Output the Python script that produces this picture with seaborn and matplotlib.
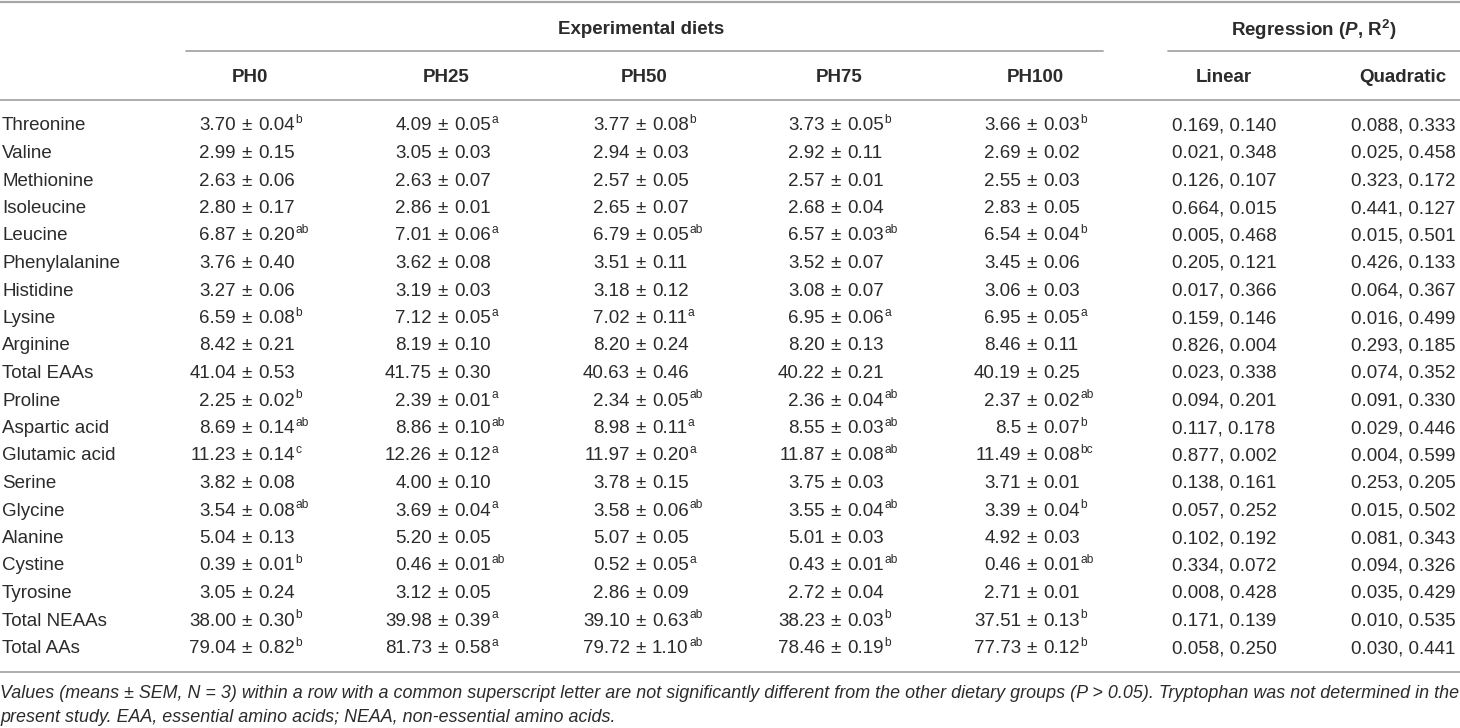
import matplotlib
matplotlib.use("Agg")
import matplotlib.pyplot as plt
import seaborn as sns

# table content
acids = ["Threonine", "Valine", "Methionine", "Isoleucine", "Leucine", "Phenylalanine",
         "Histidine", "Lysine", "Arginine", "Total EAAs", "Proline", "Aspartic acid",
         "Glutamic acid", "Serine", "Glycine", "Alanine", "Cystine", "Tyrosine",
         "Total NEAAs", "Total AAs"]
diets = ["PH0", "PH25", "PH50", "PH75", "PH100"]

ph0_mean = ["3.70", "2.99", "2.63", "2.80", "6.87", "3.76", "3.27", "6.59", "8.42", "41.04",
            "2.25", "8.69", "11.23", "3.82", "3.54", "5.04", "0.39", "3.05", "38.00", "79.04"]
ph0_sem = ["0.04", "0.15", "0.06", "0.17", "0.20", "0.40", "0.06", "0.08", "0.21", "0.53",
           "0.02", "0.14", "0.14", "0.08", "0.08", "0.13", "0.01", "0.24", "0.30", "0.82"]
ph0_sup = ["b", "", "", "", "ab", "", "", "b", "", "", "b", "ab", "c", "", "ab", "", "b", "", "b", "b"]

ph25_mean = ["4.09", "3.05", "2.63", "2.86", "7.01", "3.62", "3.19", "7.12", "8.19", "41.75",
             "2.39", "8.86", "12.26", "4.00", "3.69", "5.20", "0.46", "3.12", "39.98", "81.73"]
ph25_sem = ["0.05", "0.03", "0.07", "0.01", "0.06", "0.08", "0.03", "0.05", "0.10", "0.30",
            "0.01", "0.10", "0.12", "0.10", "0.04", "0.05", "0.01", "0.05", "0.39", "0.58"]
ph25_sup = ["a", "", "", "", "a", "", "", "a", "", "", "a", "ab", "a", "", "a", "", "ab", "", "a", "a"]

ph50_mean = ["3.77", "2.94", "2.57", "2.65", "6.79", "3.51", "3.18", "7.02", "8.20", "40.63",
             "2.34", "8.98", "11.97", "3.78", "3.58", "5.07", "0.52", "2.86", "39.10", "79.72"]
ph50_sem = ["0.08", "0.03", "0.05", "0.07", "0.05", "0.11", "0.12", "0.11", "0.24", "0.46",
            "0.05", "0.11", "0.20", "0.15", "0.06", "0.05", "0.05", "0.09", "0.63", "1.10"]
ph50_sup = ["b", "", "", "", "ab", "", "", "a", "", "", "ab", "a", "a", "", "ab", "", "a", "", "ab", "ab"]

ph75_mean = ["3.73", "2.92", "2.57", "2.68", "6.57", "3.52", "3.08", "6.95", "8.20", "40.22",
             "2.36", "8.55", "11.87", "3.75", "3.55", "5.01", "0.43", "2.72", "38.23", "78.46"]
ph75_sem = ["0.05", "0.11", "0.01", "0.04", "0.03", "0.07", "0.07", "0.06", "0.13", "0.21",
            "0.04", "0.03", "0.08", "0.03", "0.04", "0.03", "0.01", "0.04", "0.03", "0.19"]
ph75_sup = ["b", "", "", "", "ab", "", "", "a", "", "", "ab", "ab", "ab", "", "ab", "", "ab", "", "b", "b"]

ph100_mean = ["3.66", "2.69", "2.55", "2.83", "6.54", "3.45", "3.06", "6.95", "8.46", "40.19",
              "2.37", "8.5", "11.49", "3.71", "3.39", "4.92", "0.46", "2.71", "37.51", "77.73"]
ph100_sem = ["0.03", "0.02", "0.03", "0.05", "0.04", "0.06", "0.03", "0.05", "0.11", "0.25",
             "0.02", "0.07", "0.08", "0.01", "0.04", "0.03", "0.01", "0.01", "0.13", "0.12"]
ph100_sup = ["b", "", "", "", "b", "", "", "a", "", "", "ab", "b", "bc", "", "b", "", "ab", "", "b", "b"]

linear = ["0.169, 0.140", "0.021, 0.348", "0.126, 0.107", "0.664, 0.015", "0.005, 0.468",
          "0.205, 0.121", "0.017, 0.366", "0.159, 0.146", "0.826, 0.004", "0.023, 0.338",
          "0.094, 0.201", "0.117, 0.178", "0.877, 0.002", "0.138, 0.161", "0.057, 0.252",
          "0.102, 0.192", "0.334, 0.072", "0.008, 0.428", "0.171, 0.139", "0.058, 0.250"]
quadratic = ["0.088, 0.333", "0.025, 0.458", "0.323, 0.172", "0.441, 0.127", "0.015, 0.501",
             "0.426, 0.133", "0.064, 0.367", "0.016, 0.499", "0.293, 0.185", "0.074, 0.352",
             "0.091, 0.330", "0.029, 0.446", "0.004, 0.599", "0.253, 0.205", "0.015, 0.502",
             "0.081, 0.343", "0.094, 0.326", "0.035, 0.429", "0.010, 0.535", "0.030, 0.441"]

footnote = ["Values (means ± SEM, N = 3) within a row with a common superscript letter are not significantly "
            "different from the other dietary groups (P > 0.05). Tryptophan was not determined in the",
            "present study. EAA, essential amino acids; NEAA, non-essential amino acids."]

means = [ph0_mean, ph25_mean, ph50_mean, ph75_mean, ph100_mean]
sems = [ph0_sem, ph25_sem, ph50_sem, ph75_sem, ph100_sem]
sups = [ph0_sup, ph25_sup, ph50_sup, ph75_sup, ph100_sup]

# styling
sns.set_theme(style="white")
plt.rcParams["font.family"] = ["Liberation Sans", "DejaVu Sans"]
plt.rcParams["mathtext.fontset"] = "custom"
plt.rcParams["mathtext.rm"] = "Liberation Sans:bold"
plt.rcParams["mathtext.it"] = "Liberation Sans:bold:italic"

txt = "#2b2b2b"
rule = "#a6a6a6"
fs = 13.5

W, H = 1460, 728
fig = plt.figure(figsize=(W / 100, H / 100), dpi=100)
ax = fig.add_axes([0, 0, 1, 1])
ax.set_xlim(0, W)
ax.set_ylim(H, 0)
ax.axis("off")

diet_x = [247, 443, 641, 836, 1032]
reg_x = [1224, 1403]
row0, row_h = 126, 27.5
gap = 11

# rules
ax.plot([0, W], [1.5, 1.5], color=rule, lw=1.6)
ax.plot([186, 1103], [51, 51], color=rule, lw=1.3)
ax.plot([1168, W], [51, 51], color=rule, lw=1.3)
ax.plot([0, W], [100, 100], color=rule, lw=1.3)
ax.plot([0, W], [672, 672], color=rule, lw=1.3)

# headers
ax.text(641, 30, "Experimental diets", ha="center", va="center", fontsize=fs, fontweight="bold", color=txt)
ax.text(1314, 30, r"Regression ($P$, R$^{2}$)", ha="center", va="center", fontsize=fs,
        fontweight="bold", color=txt)
for x, d in zip(diet_x, diets):
    ax.text(x + 3, 77, d, ha="center", va="center", fontsize=fs, fontweight="bold", color=txt)
ax.text(reg_x[0], 77, "Linear", ha="center", va="center", fontsize=fs, fontweight="bold", color=txt)
ax.text(reg_x[1], 77, "Quadratic", ha="center", va="center", fontsize=fs, fontweight="bold", color=txt)

# body
renderer = fig.canvas.get_renderer()
inv = ax.transData.inverted()
for i, name in enumerate(acids):
    y = row0 + i * row_h
    ax.text(2, y, name, ha="left", va="center", fontsize=fs, color=txt)
    for x, m, s, sp in zip(diet_x, means, sems, sups):
        ax.text(x - gap, y, m[i], ha="right", va="center", fontsize=fs, color=txt)
        ax.text(x, y, "±", ha="center", va="center", fontsize=fs, color=txt)
        t = ax.text(x + gap, y, s[i], ha="left", va="center", fontsize=fs, color=txt)
        if sp[i]:
            bb = t.get_window_extent(renderer)
            x1 = inv.transform((bb.x1, bb.y1))[0]
            ax.text(x1 + 0.5, y - 6, sp[i], ha="left", va="center", fontsize=fs * 0.64, color=txt)
    ax.text(reg_x[0], y, linear[i], ha="center", va="center", fontsize=fs, color=txt)
    ax.text(reg_x[1], y, quadratic[i], ha="center", va="center", fontsize=fs, color=txt)

# footnote
ax.text(0, 693, footnote[0], ha="left", va="center", fontsize=12.9, style="italic", color=txt)
ax.text(0, 717, footnote[1], ha="left", va="center", fontsize=12.9, style="italic", color=txt)

fig.savefig("out.png", dpi=100)
